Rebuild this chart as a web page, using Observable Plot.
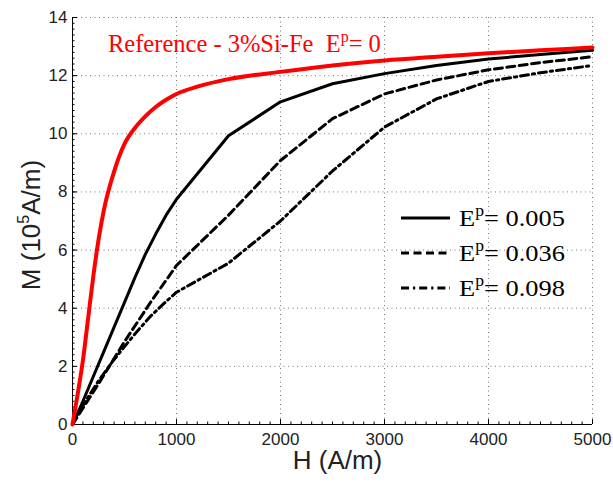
<!DOCTYPE html>
<html>
<head>
<meta charset="utf-8">
<script src="https://cdn.jsdelivr.net/npm/d3@7"></script>
<script src="https://cdn.jsdelivr.net/npm/@observablehq/plot@0.6"></script>
<style>
  body { margin: 0; background: #fff; }
  #wrap { position: relative; width: 613px; height: 492px; overflow: hidden; }
  .serif { font-family: "Liberation Serif", "Times New Roman", serif; }
  .sans { font-family: "Liberation Sans", Arial, Helvetica, sans-serif; color: #222; }
  .ov { position: absolute; white-space: nowrap; }
  .sup { font-size: 16px; position: relative; top: -10px; }
</style>
</head>
<body>
<div id="wrap"></div>
<script>
// ---- data ----
const H_ref = [0, 50, 100, 150, 200, 250, 300, 400, 500, 600, 700, 800, 900, 1000, 1200, 1500, 2000, 2500, 3000, 3500, 4000, 4500, 5000];
const M_ref = [0, 1.05, 2.2, 3.65, 5.1, 6.35, 7.35, 8.7, 9.65, 10.2, 10.6, 10.92, 11.17, 11.37, 11.62, 11.88, 12.13, 12.35, 12.52, 12.65, 12.77, 12.87, 12.97];

const H_005 = [0, 100, 200, 300, 400, 500, 600, 700, 800, 900, 1000, 1500, 2000, 2500, 3000, 3500, 4000, 4500, 5000];
const M_005 = [0, 0.8, 1.65, 2.5, 3.35, 4.2, 5.05, 5.85, 6.55, 7.2, 7.75, 9.93, 11.1, 11.72, 12.07, 12.35, 12.57, 12.73, 12.87];

const H_036 = [0, 250, 500, 750, 1000, 1500, 2000, 2500, 3000, 3500, 4000, 4500, 5000];
const M_036 = [0, 1.4, 2.85, 4.2, 5.47, 7.2, 9.08, 10.52, 11.37, 11.85, 12.2, 12.45, 12.65];

const H_098 = [0, 125, 250, 375, 500, 625, 750, 875, 1000, 1500, 2000, 2500, 3000, 3500, 4000, 4500, 5000];
const M_098 = [0, 0.8, 1.5, 2.12, 2.68, 3.22, 3.72, 4.15, 4.55, 5.55, 7.0, 8.72, 10.23, 11.2, 11.8, 12.1, 12.35];

const xTicks = [0, 1000, 2000, 3000, 4000, 5000];
const yTicks = [0, 2, 4, 6, 8, 10, 12, 14];
const xMinor = d3.range(0, 5001, 100);
const yMinor = d3.range(0, 14.001, 0.2);

const legendLabels = ["0.005", "0.036", "0.098"];
const refLabel = "Reference - 3%Si-Fe";
const refEp = "0";

// ---- build series tables ----
const toRows = (H, M) => H.map((h, i) => ({H: h, M: M[i]}));
const ref = toRows(H_ref, M_ref);
const s005 = toRows(H_005, M_005);
const s036 = toRows(H_036, M_036);
const s098 = toRows(H_098, M_098);

const dashes = ["none", "8,4.5", "8,4,2.2,4"];

const chart = Plot.plot({
  width: 613,
  height: 492,
  marginLeft: 72,
  marginRight: 21,
  marginTop: 17,
  marginBottom: 68,
  x: {domain: [0, 5000]},
  y: {domain: [0, 14]},
  style: {fontFamily: "'Liberation Sans', Arial, sans-serif", fontSize: "17px", color: "#222", background: "white"},
  marks: [
    Plot.gridX(xTicks.slice(1), {stroke: "#777", strokeOpacity: 1, strokeDasharray: "1,3.5", strokeWidth: 1}),
    Plot.gridY(yTicks.slice(1), {stroke: "#777", strokeOpacity: 1, strokeDasharray: "1,3.5", strokeWidth: 1}),
    // minor + major inward ticks
    Plot.axisX(xMinor, {tickSize: -2.5, tickFormat: () => "", label: null, stroke: "#000"}),
    Plot.axisY(yMinor, {tickSize: -2.5, tickFormat: () => "", label: null, stroke: "#000"}),
    Plot.axisX(xTicks, {tickSize: -5, tickFormat: () => "", label: null, stroke: "#000"}),
    Plot.axisY(yTicks, {tickSize: -5, tickFormat: () => "", label: null, stroke: "#000"}),
    // tick labels
    Plot.axisX(xTicks, {tickSize: 0, tickPadding: 8, label: null, tickFormat: d => String(d), fill: "#222"}),
    Plot.axisY(yTicks, {tickSize: 0, tickPadding: 5, label: null, tickFormat: d => String(d), fill: "#222"}),
    Plot.ruleX([0], {stroke: "#000", strokeWidth: 1}),
    Plot.ruleY([0], {stroke: "#000", strokeWidth: 1}),
    Plot.line(s098, {x: "H", y: "M", stroke: "#000", strokeWidth: 3, strokeDasharray: dashes[2]}),
    Plot.line(s036, {x: "H", y: "M", stroke: "#000", strokeWidth: 3, strokeDasharray: dashes[1]}),
    Plot.line(s005, {x: "H", y: "M", stroke: "#000", strokeWidth: 3}),
    Plot.line(ref, {x: "H", y: "M", stroke: "#ff0000", strokeWidth: 4, curve: "monotone-x"})
  ]
});

const wrap = document.getElementById("wrap");
chart.style.position = "absolute";
chart.style.left = "0px";
chart.style.top = "0px";
wrap.appendChild(chart);

// axis titles
const xt = document.createElement("div");
xt.className = "ov sans";
xt.style.cssText += "left:0;width:675px;text-align:center;top:445px;font-size:26px;";
xt.textContent = "H (A/m)";
wrap.appendChild(xt);

const yt = document.createElement("div");
yt.className = "ov sans";
yt.style.cssText += "left:31px;top:225px;font-size:26px;transform:translate(-50%,-50%) rotate(-90deg);";
yt.innerHTML = 'M (10<span style="font-size:16px;position:relative;top:-11px">5</span>A/m)';
wrap.appendChild(yt);

// red annotation
const ann = document.createElement("div");
ann.className = "ov serif";
ann.style.cssText += "left:108px;top:30px;font-size:24.5px;color:#ff0000;";
ann.innerHTML = refLabel + '&nbsp;&nbsp;E<span class="sup">p</span>= ' + refEp;
wrap.appendChild(ann);

// legend
const legTop = [219, 254, 289];
legendLabels.forEach((lab, i) => {
  const row = document.createElement("div");
  row.className = "ov serif";
  row.style.cssText += `left:401px;top:${legTop[i] - 16}px;font-size:24px;color:#000;display:flex;align-items:center;`;
  const d = dashes[i] === "none" ? "" : `stroke-dasharray="${dashes[i]}"`;
  row.innerHTML = `<svg width="49" height="30" style="margin-right:9px"><line x1="0" x2="49" y1="15" y2="15" stroke="#000" stroke-width="3" ${d}/></svg><span style="display:inline-block;transform:scaleX(1.1);transform-origin:left center">E<span class="sup">p</span>= ${lab}</span>`;
  wrap.appendChild(row);
});
</script>
</body>
</html>
